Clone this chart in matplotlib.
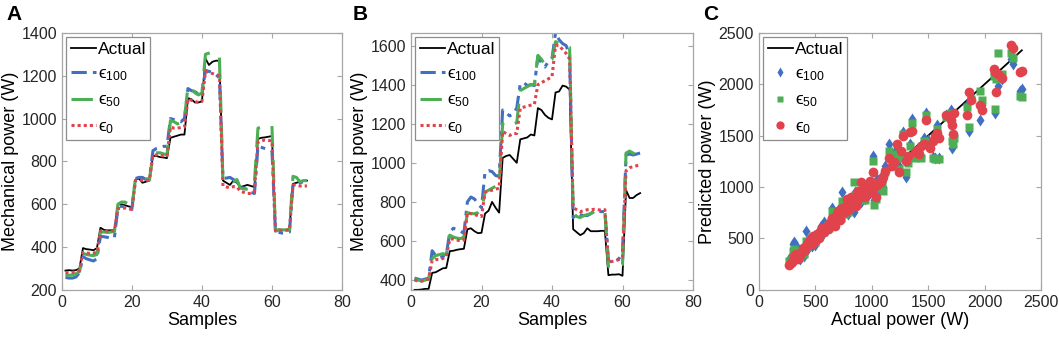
import matplotlib.pyplot as plt
import numpy as np

plt.rcParams['font.family'] = ['Liberation Sans', 'DejaVu Sans']
plt.rcParams['mathtext.fontset'] = 'custom'
plt.rcParams['mathtext.rm'] = 'Liberation Sans'
plt.rcParams['mathtext.it'] = 'Liberation Sans'

# ---- panel A ----
a_actual = [290, 292, 290, 292, 300, 395, 390, 388, 385, 395, 490, 480, 478, 478, 480,
            600, 600, 595, 590, 585, 715, 720, 700, 705, 710, 825, 825, 820, 818, 815,
            910, 915, 920, 925, 925, 1095, 1090, 1075, 1075, 1080, 1280, 1250, 1265, 1270, 1270,
            710, 700, 690, 710, 700, 680, 685, 690, 685, 680, 905, 910, 912, 915, 918,
            480, 482, 480, 480, 485, 695, 700, 705, 710, 710]
a_e100 = [258, 255, 255, 260, 280, 355, 345, 340, 335, 345, 450, 448, 445, 440, 445,
          585, 590, 590, 585, 580, 720, 725, 725, 715, 720, 850, 860, 865, 870, 870,
          1000, 995, 990, 985, 1000, 1140, 1130, 1125, 1115, 1120, 1225, 1220, 1215, 1205, 1190,
          720, 722, 725, 715, 705, 680, 675, 665, 655, 650, 870, 865, 860, 855, 850,
          470, 468, 465, 465, 470, 690, 695, 700, 705, 705]
a_e50 = [270, 268, 270, 275, 285, 370, 365, 362, 360, 365, 470, 470, 468, 470, 472,
         600, 610, 610, 600, 585, 720, 725, 725, 718, 715, 835, 840, 840, 835, 830,
         990, 985, 975, 980, 1000, 1150, 1140, 1120, 1110, 1120, 1300, 1305, 1310, 1290, 1285,
         705, 710, 712, 705, 715, 675, 672, 670, 670, 705, 955, 960, 962, 965, 965,
         475, 478, 480, 480, 480, 730, 725, 705, 710, 710]
a_e0 = [280, 280, 282, 285, 290, 375, 372, 370, 372, 375, 475, 475, 475, 475, 478,
        580, 580, 582, 578, 575, 710, 712, 712, 710, 712, 830, 830, 828, 825, 825,
        960, 955, 955, 958, 960, 1090, 1085, 1080, 1075, 1080, 1220, 1215, 1210, 1205, 1200,
        685, 680, 678, 682, 680, 660, 655, 650, 650, 660, 890, 895, 900, 898, 895,
        475, 478, 478, 478, 480, 690, 690, 685, 685, 685]

# ---- panel B ----
b_actual = [350, 350, 352, 355, 355, 437, 440, 450, 460, 462, 548, 550, 555, 558, 560,
            660, 665, 650, 640, 642, 740, 755, 800, 770, 745, 1025, 1035, 1040, 1020, 1000,
            1120, 1125, 1130, 1145, 1140, 1280, 1270, 1245, 1230, 1222, 1360, 1365, 1395, 1390, 1375,
            660, 645, 630, 640, 665, 650, 650, 650, 652, 652, 425, 428, 428, 430, 422,
            860, 820, 820, 835, 845]
b_e100 = [410, 405, 400, 405, 410, 550, 525, 515, 520, 530, 645, 665, 660, 650, 640,
          800, 825, 815, 790, 770, 955, 960, 955, 935, 930, 1270, 1255, 1240, 1250, 1280,
          1405, 1410, 1395, 1400, 1395, 1545, 1510, 1490, 1520, 1535, 1665, 1630, 1610, 1600, 1550,
          720, 740, 735, 730, 730, 740, 755, 752, 750, 752, 500, 490, 495, 510, 540,
          1040, 1045, 1040, 1045, 1050]
b_e50 = [405, 400, 395, 400, 405, 510, 525, 530, 535, 530, 630, 620, 615, 612, 620,
         745, 740, 740, 745, 760, 850, 860, 870, 880, 885, 1200, 1210, 1215, 1200, 1205,
         1370, 1380, 1390, 1400, 1400, 1550, 1530, 1500, 1520, 1530, 1620, 1610, 1600, 1590, 1590,
         745, 725, 720, 730, 735, 740, 750, 752, 750, 750, 470, 465, 470, 475, 480,
         1050, 1060, 1050, 1040, 1035]
b_e0 = [400, 395, 395, 400, 405, 500, 505, 505, 510, 520, 610, 610, 605, 600, 605,
        745, 740, 735, 730, 725, 850, 855, 860, 865, 870, 1160, 1150, 1140, 1150, 1150,
        1280, 1285, 1290, 1295, 1300, 1400, 1410, 1420, 1430, 1440, 1600, 1600, 1580, 1560, 1530,
        770, 760, 750, 755, 760, 760, 762, 760, 758, 760, 495, 495, 500, 505, 520,
        960, 975, 980, 985, 990]

# ---- panel C ----
c_actual = [270, 280, 300, 310, 330, 350, 380, 400, 420, 440, 460, 480, 500, 520, 540,
            560, 580, 600, 620, 640, 650, 670, 690, 700, 720, 740, 760, 780, 800, 820,
            840, 860, 880, 900, 920, 940, 960, 1000, 1010, 1020, 1040, 1060, 1080, 1100, 1120,
            1150, 1180, 1200, 1220, 1240, 1260, 1280, 1300, 1320, 1340, 1360, 1380, 1400, 1420, 1440,
            1460, 1480, 1500, 1520, 1540, 1560, 1580, 1600, 1660, 1700, 1710, 1720, 1730, 1840, 1860,
            1880, 1960, 1980, 2080, 2090, 2100, 2120, 2150, 2230, 2250, 2310, 2330,
            290, 320, 340, 360, 390, 410, 430, 450, 470, 490, 510, 530, 550, 570, 590,
            610, 630, 660, 680, 710, 730, 750, 770, 790, 810, 830, 850, 870, 890, 910,
            930, 950, 980, 1050, 1070, 1090]
c_e100 = [300, 320, 450, 470, 380, 360, 400, 330, 570, 450, 480, 470, 440, 560, 520,
          600, 660, 580, 650, 700, 800, 680, 720, 780, 720, 950, 760, 800, 820, 870,
          760, 900, 920, 850, 1000, 880, 980, 1000, 1300, 870, 920, 1030, 1100, 1000, 1200,
          1420, 1250, 1330, 1350, 1200, 1300, 1540, 1100, 1250, 1420, 1660, 1300, 1350, 1380, 1300,
          1480, 1720, 1460, 1420, 1290, 1280, 1600, 1280, 1700, 1750, 1380, 1400, 1500, 1800, 1550,
          1880, 1650, 1800, 2100, 1720, 2100, 1980, 2050, 2250, 2200, 1930, 1950,
          280, 350, 420, 300, 380, 420, 390, 500, 430, 520, 480, 500, 620, 540, 620,
          640, 600, 720, 700, 760, 690, 800, 830, 740, 880, 800, 950, 830, 940, 900,
          960, 1020, 940, 1080, 980, 1050]
c_e50 = [280, 270, 380, 400, 360, 340, 380, 350, 480, 470, 450, 490, 470, 510, 540,
         560, 600, 590, 600, 620, 770, 650, 700, 680, 700, 860, 740, 780, 800, 850,
         1050, 870, 880, 880, 960, 870, 960, 980, 1250, 830, 880, 1000, 1060, 960, 1150,
         1350, 1230, 1300, 1320, 1180, 1280, 1520, 1150, 1230, 1400, 1620, 1280, 1330, 1350, 1280,
         1450, 1700, 1440, 1400, 1280, 1270, 1560, 1270, 1680, 1720, 1450, 1420, 1480, 1780, 1580,
         1860, 1930, 1850, 2080, 1760, 2050, 2300, 2100, 2300, 2260, 1890, 1880,
         300, 320, 380, 320, 400, 410, 420, 480, 460, 500, 500, 520, 580, 560, 600,
         630, 620, 700, 690, 740, 700, 780, 810, 760, 860, 820, 920, 850, 910, 880,
         940, 1000, 950, 1040, 1000, 1030]
c_e0 = [240, 260, 290, 330, 350, 300, 370, 380, 430, 480, 500, 520, 480, 530, 560,
        600, 560, 620, 640, 660, 700, 620, 740, 770, 680, 800, 760, 880, 850, 900,
        880, 820, 960, 1050, 930, 900, 940, 960, 1150, 1000, 900, 1040, 1050, 1100, 1160,
        1280, 1200, 1240, 1420, 1150, 1350, 1500, 1250, 1300, 1540, 1550, 1340, 1360, 1320, 1400,
        1420, 1650, 1410, 1380, 1450, 1500, 1530, 1480, 1700, 1650, 1600, 1520, 1720, 1700, 1920,
        1850, 1800, 1750, 2150, 2120, 1920, 2100, 2060, 2380, 2350, 2120, 2130,
        270, 300, 330, 340, 410, 390, 450, 470, 450, 510, 540, 500, 570, 590, 610,
        590, 650, 690, 720, 730, 760, 790, 820, 780, 840, 870, 900, 860, 900, 940,
        970, 1000, 1060, 1020, 1060, 1080]
c_line = [270, 2330]

blue = '#4170C2'
green = '#4DAE55'
red = '#E0434B'
labels = ['Actual', '\u03f5$_{100}$', '\u03f5$_{50}$', '\u03f5$_{0}$']


def style(ax):
    for s in ax.spines.values():
        s.set_color('#a6a6a6')
        s.set_linewidth(0.9)
    ax.tick_params(direction='in', top=True, right=True, labelsize=11.5,
                   color='#a6a6a6', labelcolor='#262626', length=3.5)


def add_legend(ax, **kw):
    leg = ax.legend(loc='upper left', fontsize=12.5, handlelength=1.45, handletextpad=0.1,
                    borderaxespad=0.25, borderpad=0.25, labelspacing=0.55, fancybox=False,
                    framealpha=1, **kw)
    leg.get_frame().set_edgecolor('#8c8c8c')
    leg.get_frame().set_linewidth(0.9)


def lines(ax, actual, e100, e50, e0):
    x = np.arange(1, len(actual) + 1)
    ax.plot(x, actual, color='black', lw=1.3, label=labels[0])
    ax.plot(x, e100, color=blue, lw=2.2, ls=(0, (5, 2, 1.5, 2)), label=labels[1])
    ax.plot(x, e50, color=green, lw=2.2, ls=(0, (7, 4)), label=labels[2])
    ax.plot(x, e0, color=red, lw=2.2, ls=(0, (1, 1)), label=labels[3])
    ax.set_xlim(0, 80)
    ax.set_xticks([0, 20, 40, 60, 80])
    ax.set_xlabel('Samples', fontsize=13, labelpad=2)
    ax.set_ylabel('Mechanical power (W)', fontsize=13, labelpad=2)
    add_legend(ax)
    style(ax)


fig = plt.figure(figsize=(10.59, 3.41), dpi=100)
axA = fig.add_axes([0.0585, 0.150, 0.2644, 0.7537])
axB = fig.add_axes([0.3881, 0.150, 0.2663, 0.7537])
axC = fig.add_axes([0.7167, 0.150, 0.2663, 0.7537])

lines(axA, a_actual, a_e100, a_e50, a_e0)
axA.set_ylim(200, 1400)
axA.set_yticks(np.arange(200, 1401, 200))

lines(axB, b_actual, b_e100, b_e50, b_e0)
axB.set_ylim(350, 1665)
axB.set_yticks(np.arange(400, 1601, 200))

axC.plot(c_line, c_line, color='black', lw=1.3, label=labels[0])
axC.plot(c_actual, c_e100, 'd', color=blue, ms=6, mec='none', label=labels[1])
axC.plot(c_actual, c_e50, 's', color=green, ms=5.5, mec='none', label=labels[2])
axC.plot(c_actual, c_e0, 'o', color=red, ms=7, mec='none', label=labels[3])
axC.set_xlim(0, 2500)
axC.set_ylim(0, 2500)
axC.set_xticks(np.arange(0, 2501, 500))
axC.set_yticks(np.arange(0, 2501, 500))
axC.set_xlabel('Actual power (W)', fontsize=13, labelpad=2)
axC.set_ylabel('Predicted power (W)', fontsize=13, labelpad=2)
add_legend(axC, markerscale=0.85)
style(axC)

for lab, xp in zip(['A', 'B', 'C'], [0.006, 0.333, 0.664]):
    fig.text(xp, 0.985, lab, fontsize=15, fontweight='bold', va='top', ha='left')

fig.savefig('out.png', dpi=100)
